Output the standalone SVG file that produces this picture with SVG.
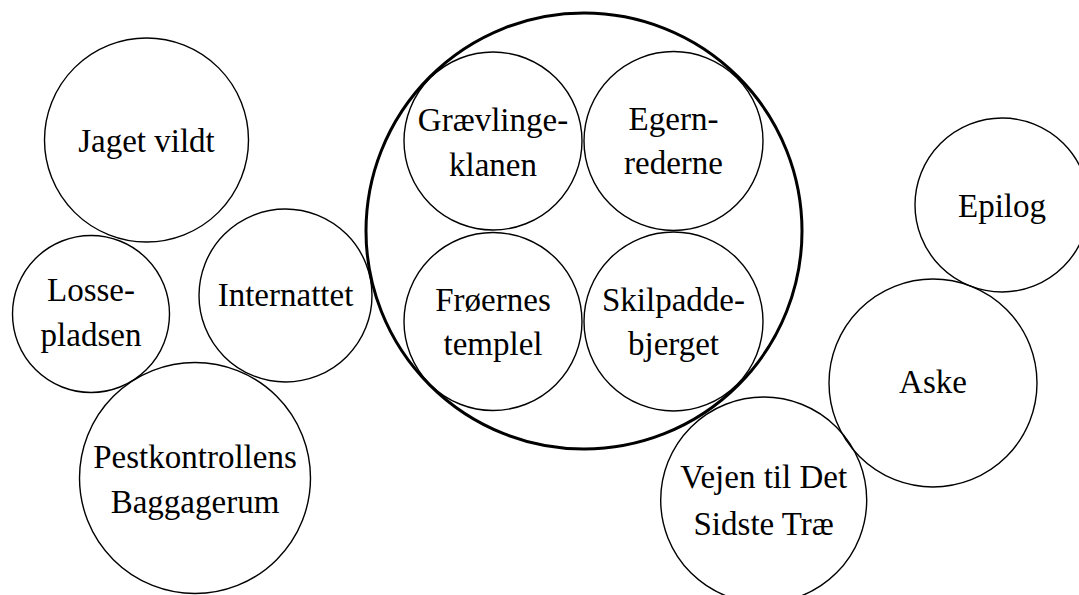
<svg xmlns="http://www.w3.org/2000/svg" width="1079" height="595" viewBox="0 0 1079 595">
<style>
.c{fill:none;stroke:#000;stroke-width:1.4}
.big{fill:none;stroke:#000;stroke-width:3}
text{font-family:"Liberation Serif","Times New Roman",serif;font-size:33px;fill:#000;text-anchor:middle}
</style>
<rect width="1079" height="595" fill="#fff"/>
<g id="jaget"><circle class="c" cx="146.5" cy="140" r="102"/><text x="146.5" y="152">Jaget vildt</text></g>
<g id="losse"><circle class="c" cx="91" cy="314" r="78.5"/><text x="91" y="301">Losse-</text><text x="91" y="346">pladsen</text></g>
<g id="internattet"><circle class="c" cx="285.5" cy="295.5" r="86.5"/><text x="285.5" y="306">Internattet</text></g>
<g id="pest"><circle class="c" cx="195" cy="478" r="115.5"/><text x="195" y="468">Pestkontrollens</text><text x="195" y="513">Baggagerum</text></g>
<g id="gruppe"><circle class="big" cx="584" cy="231" r="218"/></g>
<g id="graevlinge"><circle class="c" cx="493" cy="141" r="89"/><text x="493" y="131">Grævlinge-</text><text x="493" y="176">klanen</text></g>
<g id="egern"><circle class="c" cx="673.5" cy="141" r="89.5"/><text x="673.5" y="130">Egern-</text><text x="673.5" y="174">rederne</text></g>
<g id="froernes"><circle class="c" cx="493" cy="321.5" r="89"/><text x="493" y="311">Frøernes</text><text x="493" y="355">templel</text></g>
<g id="skilpadde"><circle class="c" cx="673.5" cy="321.5" r="89.5"/><text x="673.5" y="311">Skilpadde-</text><text x="673.5" y="355">bjerget</text></g>
<g id="epilog"><circle class="c" cx="1002" cy="205" r="87"/><text x="1002" y="217">Epilog</text></g>
<g id="aske"><circle class="c" cx="933" cy="383" r="104"/><text x="933" y="393">Aske</text></g>
<g id="vejen"><circle class="c" cx="763.7" cy="500" r="103"/><text x="763.7" y="488">Vejen til Det</text><text x="763.7" y="535">Sidste Træ</text></g>
<g id="connectors"/>
</svg>
